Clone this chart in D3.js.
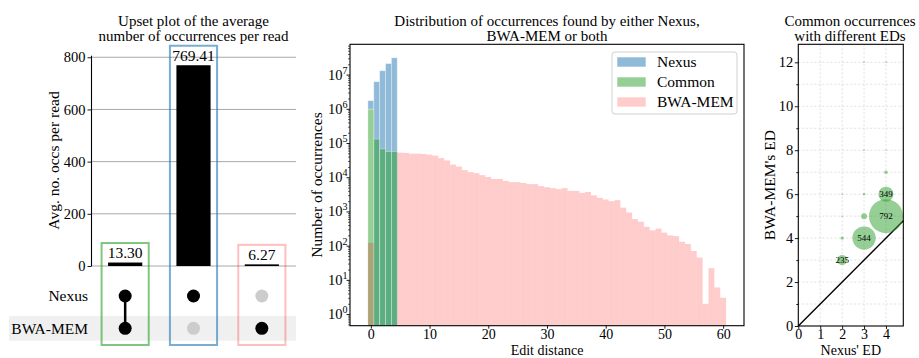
<!DOCTYPE html>
<html><head><meta charset="utf-8">
<script src="https://cdn.jsdelivr.net/npm/d3@7"></script>
<style>
body{margin:0;background:#fff}
svg{display:block}
text{font-family:"Liberation Serif","DejaVu Serif",serif;fill:#000}
</style>
</head><body>
<svg id="c" width="919" height="358" font-family="Liberation Serif, DejaVu Serif, serif"></svg>
<script>
// ---------------- data ----------------
// Upset plot
const upsetRows = ["Nexus", "BWA-MEM"];
const upsetValues = [13.30, 769.41, 6.27];
const upsetNexus = [1, 1, 0];
const upsetBwa = [1, 0, 1];
const upsetTicks = [0, 200, 400, 600, 800];
const upsetBoxColors = ["rgba(44,160,44,0.6)", "rgba(31,119,180,0.6)", "rgba(255,0,0,0.25)"];

// Histogram (edit distance bins 0..60)
const seriesNames = ["Nexus", "Common", "BWA-MEM"];
const nexusCounts = [1.73e6, 6.2e6, 1.3e7, 2.1e7, 3.1e7];
const nexusBase = [9.7e5, null, null, null, null];
const commonCounts = [9.7e5, 1.3e5, 6.7e4, 5.6e4, 5.6e4];
const bwaCounts = [120, 0, 0, 0, 0,
  52500, 51300, 49000, 49000, 47900, 45700, 42700, 36300, 30900, 23400,
  20400, 16200, 14100, 13200, 11500, 10200, 8900, 8900, 7800, 7200,
  7200, 6800, 6300, 6300, 5500, 5100, 4800, 4500, 4800, 4000,
  4000, 3500, 3700, 2950, 2500, 2240, 2000, 2140, 1290, 930,
  600, 500, 355, 280, 316, 240, 200, 190, 130, 112,
  70, 45, 2, 22, 6, 3];
const histXTicks = [0, 10, 20, 30, 40, 50, 60];
const histYTicks = [1, 10, 100, 1e3, 1e4, 1e5, 1e6, 1e7];

// Scatter of common occurrences with different EDs
const scNexusED = [2, 3, 4, 4, 2, 3, 4, 3, 2, 2, 3, 4, 3, 4];
const scBwaED   = [3, 4, 5, 6, 4, 5, 7, 6, 5, 6, 8, 8, 12, 12];
const scCount   = [235, 544, 792, 349, 80, 140, 80, 55, 35, 35, 35, 30, 35, 35];
const scXTicks = [0, 1, 2, 3, 4];
const scYTicks = [0, 2, 4, 6, 8, 10, 12];

// ---------------- drawing ----------------
const SERIF = '"Liberation Serif","DejaVu Serif",serif';
const svg = d3.select("#c");
const FONT_T = 15, FONT_L = 15.5, FONT_TICK = 14.5, FONT_XT = 14, FONT_XL = 14;
const fmtInt = d3.format("d");

function txt(sel) { return sel.style("font-family", SERIF).attr("fill", "#000"); }
function title(x, lines, y0) {
  lines.forEach((l, i) => txt(svg.append("text")).attr("text-anchor", "middle").attr("font-size", FONT_T)
    .attr("x", x).attr("y", y0 + i * 15).text(l));
}
function styleAxis(g, fs) {
  g.attr("font-family", null).attr("font-size", null);
  g.selectAll("text").attr("font-size", fs).style("font-family", SERIF).attr("fill", "#000");
  g.selectAll("line").attr("stroke", "#000").attr("stroke-width", 0.9);
  g.select(".domain").attr("stroke", "#000").attr("stroke-width", 1.1);
}

// ===== Panel 1: upset =====
(function () {
  const xU = d3.scaleLinear().domain([-0.5, 2.5]).range([91, 296]);
  const yU = d3.scaleLinear().domain([0, 807.9]).range([266, 55.2]);
  const rowY = d3.scaleLinear().domain([0, 1]).range([296, 328.3]);
  const bw = 0.5 * (xU(1) - xU(0));

  svg.append("rect").attr("x", 9).attr("y", rowY(1) - 12.3).attr("width", 296 - 9).attr("height", 24.7).attr("fill", "#f0f0f0");

  svg.append("g").selectAll("line").data(upsetTicks).join("line")
    .attr("x1", 91).attr("x2", 296).attr("y1", d => yU(d)).attr("y2", d => yU(d))
    .attr("stroke", "#a8a8a8").attr("stroke-width", 1);

  svg.append("g").selectAll("rect").data(upsetValues).join("rect")
    .attr("x", (d, i) => xU(i) - bw / 2).attr("width", bw)
    .attr("y", d => yU(d)).attr("height", d => yU(0) - yU(d)).attr("fill", "#000");

  txt(svg.append("g").selectAll("text").data(upsetValues).join("text"))
    .attr("x", (d, i) => xU(i)).attr("y", d => yU(d) - 4.5)
    .attr("text-anchor", "middle").attr("font-size", FONT_L).text(d => d.toFixed(2));

  const ax = svg.append("g").attr("transform", "translate(91,0)")
    .call(d3.axisLeft(yU).tickValues(upsetTicks).tickFormat(fmtInt).tickSize(3.5).tickSizeOuter(0).tickPadding(2));
  styleAxis(ax, FONT_TICK);

  txt(svg.append("text")).attr("transform", "translate(58.5,160.5) rotate(-90)")
    .attr("text-anchor", "middle").attr("font-size", FONT_L).text("Avg. no. occs per read");

  upsetRows.forEach((r, j) => txt(svg.append("text")).attr("x", 88).attr("y", rowY(j)).attr("dy", "0.35em")
    .attr("text-anchor", "end").attr("font-size", FONT_L).text(r));

  upsetValues.forEach((v, i) => {
    const mem = [upsetNexus[i], upsetBwa[i]];
    if (mem[0] && mem[1]) {
      svg.append("line").attr("x1", xU(i)).attr("x2", xU(i)).attr("y1", rowY(0)).attr("y2", rowY(1))
        .attr("stroke", "#000").attr("stroke-width", 2.5);
    }
    mem.forEach((m, j) => svg.append("circle").attr("cx", xU(i)).attr("cy", rowY(j)).attr("r", 6.5)
      .attr("fill", m ? "#000" : "#cccccc"));
  });

  const hw = 0.345 * (xU(1) - xU(0));
  svg.append("g").selectAll("rect").data(upsetValues).join("rect")
    .attr("x", (d, i) => xU(i) - hw).attr("width", 2 * hw)
    .attr("y", d => yU(d) - 19.5).attr("height", d => 345 - (yU(d) - 19.5))
    .attr("fill", "none").attr("stroke", (d, i) => upsetBoxColors[i]).attr("stroke-width", 2);

  title(193.5, ["Upset plot of the average", "number of occurrences per read"], 25.5);
})();

// ===== Panel 2: histogram =====
(function () {
  const L = 350, R = 744, T = 44.3, B = 325.7;
  const x = d3.scaleLinear().domain([-3.55, 63.55]).range([L, R]);
  const y = d3.scaleLog().domain([Math.pow(10, -0.34), Math.pow(10, 7.886)]).range([B, T]);
  const cNexus = "rgba(31,119,180,0.5)", cCommon = "rgba(44,160,44,0.5)", cBwa = "rgba(255,0,0,0.2)";

  const g = svg.append("g");
  g.selectAll("rect.nx").data(nexusCounts).join("rect").attr("class", "nx")
    .attr("x", (d, i) => x(i - 0.5)).attr("width", (d, i) => x(i + 0.5) - x(i - 0.5))
    .attr("y", d => y(d)).attr("height", (d, i) => (nexusBase[i] ? y(nexusBase[i]) : B) - y(d))
    .attr("fill", cNexus).attr("stroke", "rgba(255,255,255,0.45)").attr("stroke-width", 0.8);
  g.selectAll("rect.cm").data(commonCounts).join("rect").attr("class", "cm")
    .attr("x", (d, i) => x(i - 0.5)).attr("width", (d, i) => x(i + 0.5) - x(i - 0.5))
    .attr("y", d => y(d)).attr("height", d => B - y(d))
    .attr("fill", cCommon).attr("stroke", "rgba(255,255,255,0.35)").attr("stroke-width", 0.8);
  g.selectAll("rect.bw").data(bwaCounts.map((v, i) => ({ v, i })).filter(d => d.v > 0)).join("rect").attr("class", "bw")
    .attr("x", d => x(d.i - 0.5)).attr("width", d => x(d.i + 0.5) - x(d.i - 0.5))
    .attr("y", d => y(d.v)).attr("height", d => B - y(d.v))
    .attr("fill", cBwa);

  svg.append("rect").attr("x", L).attr("y", T).attr("width", R - L).attr("height", B - T)
    .attr("fill", "none").attr("stroke", "#000").attr("stroke-width", 1.1);

  const ax = svg.append("g").attr("transform", `translate(0,${B})`)
    .call(d3.axisBottom(x).tickValues(histXTicks).tickFormat(fmtInt).tickSize(3).tickSizeOuter(0).tickPadding(0.5));
  styleAxis(ax, FONT_XT);
  ax.select(".domain").remove();

  const ay = svg.append("g").attr("transform", `translate(${L},0)`)
    .call(d3.axisLeft(y).tickValues(histYTicks).tickSize(3.5).tickSizeOuter(0).tickFormat(""));
  styleAxis(ay, FONT_TICK);
  ay.select(".domain").remove();
  const minor = [];
  for (let k = -1; k <= 7; k++) for (let m = 2; m <= 9; m++) {
    const v = m * Math.pow(10, k);
    if (v > y.domain()[0] && v < y.domain()[1]) minor.push(v);
  }
  const am = svg.append("g").attr("transform", `translate(${L},0)`)
    .call(d3.axisLeft(y).tickValues(minor).tickSize(2).tickSizeOuter(0).tickFormat(""));
  styleAxis(am, FONT_TICK);
  am.selectAll("line").attr("stroke-width", 0.6);
  am.select(".domain").remove();
  histYTicks.forEach(v => {
    const t = txt(svg.append("text")).attr("x", L - 2.5).attr("y", y(v) + 5).attr("text-anchor", "end").attr("font-size", FONT_TICK);
    t.append("tspan").text("10");
    t.append("tspan").attr("dy", -6).attr("font-size", 10).text(String(Math.round(Math.log10(v))));
  });

  txt(svg.append("text")).attr("transform", `translate(321.5,${(T + B) / 2}) rotate(-90)`)
    .attr("text-anchor", "middle").attr("font-size", FONT_L).text("Number of occurrences");
  txt(svg.append("text")).attr("x", (L + R) / 2).attr("y", 354.8).attr("text-anchor", "middle")
    .attr("font-size", FONT_XL).text("Edit distance");

  const lg = svg.append("g");
  lg.append("rect").attr("x", 612).attr("y", 52).attr("width", 125).attr("height", 62).attr("rx", 3)
    .attr("fill", "rgba(255,255,255,0.8)").attr("stroke", "#d0d0d0").attr("stroke-width", 1);
  [cNexus, cCommon, cBwa].forEach((c, i) => {
    lg.append("rect").attr("x", 617.3).attr("y", 57.3 + i * 20).attr("width", 28.4).attr("height", 9.4).attr("fill", c);
    txt(lg.append("text")).attr("x", 657).attr("y", 62 + i * 20).attr("dy", "0.35em").attr("font-size", FONT_L).text(seriesNames[i]);
  });

  title((L + R) / 2, ["Distribution of occurrences found by either Nexus,", "BWA-MEM or both"], 25.5);
})();

// ===== Panel 3: scatter =====
(function () {
  const L = 798.3, R = 903.3, T = 44.3, B = 326;
  const x = d3.scaleLinear().domain([0, 4.79]).range([L, R]);
  const y = d3.scaleLinear().domain([0, 12.82]).range([B, T]);
  const r = d3.scaleLinear().domain([0, 792]).range([0, 17]);

  const gg = svg.append("g").attr("stroke", "#d8d8d8").attr("stroke-width", 0.8).attr("stroke-dasharray", "2,2");
  gg.selectAll("line.v").data(d3.range(1, 5)).join("line").attr("class", "v")
    .attr("x1", d => x(d)).attr("x2", d => x(d)).attr("y1", T).attr("y2", B);
  gg.selectAll("line.h").data(d3.range(1, 13)).join("line").attr("class", "h")
    .attr("x1", L).attr("x2", R).attr("y1", d => y(d)).attr("y2", d => y(d));

  svg.append("line").attr("x1", x(0)).attr("y1", y(0)).attr("x2", x(4.79)).attr("y2", y(4.79))
    .attr("stroke", "#000").attr("stroke-width", 1.4);

  const pts = scCount.map((c, i) => ({ x: scNexusED[i], y: scBwaED[i], c }));
  svg.append("g").selectAll("circle").data(pts).join("circle")
    .attr("cx", d => x(d.x)).attr("cy", d => y(d.y)).attr("r", d => r(d.c))
    .attr("fill", "rgba(44,160,44,0.5)");
  txt(svg.append("g").selectAll("text").data(pts.filter(d => d.c >= 200)).join("text"))
    .attr("x", d => x(d.x)).attr("y", d => y(d.y)).attr("dy", "0.35em").attr("text-anchor", "middle")
    .attr("font-size", 9).text(d => d.c);

  svg.append("rect").attr("x", L).attr("y", T).attr("width", R - L).attr("height", B - T)
    .attr("fill", "none").attr("stroke", "#000").attr("stroke-width", 1.1);

  const ax = svg.append("g").attr("transform", `translate(0,${B})`)
    .call(d3.axisBottom(x).tickValues(scXTicks).tickFormat(fmtInt).tickSize(3).tickSizeOuter(0).tickPadding(0.5));
  styleAxis(ax, FONT_XT); ax.select(".domain").remove();
  const ay = svg.append("g").attr("transform", `translate(${L},0)`)
    .call(d3.axisLeft(y).tickValues(scYTicks).tickFormat(fmtInt).tickSize(3.5).tickSizeOuter(0).tickPadding(1.5));
  styleAxis(ay, FONT_TICK); ay.select(".domain").remove();
  const am = svg.append("g").attr("transform", `translate(${L},0)`)
    .call(d3.axisLeft(y).tickValues(d3.range(1, 13, 2)).tickSize(2).tickSizeOuter(0).tickFormat(""));
  styleAxis(am, FONT_TICK); am.select(".domain").remove();

  txt(svg.append("text")).attr("transform", `translate(775,${(T + B) / 2}) rotate(-90)`)
    .attr("text-anchor", "middle").attr("font-size", FONT_L).text("BWA-MEM's ED");
  txt(svg.append("text")).attr("x", (L + R) / 2).attr("y", 354.8).attr("text-anchor", "middle")
    .attr("font-size", FONT_XL).text("Nexus' ED");

  title(850, ["Common occurrences", "with different EDs"], 25.5);
})();
</script>
</body></html>
